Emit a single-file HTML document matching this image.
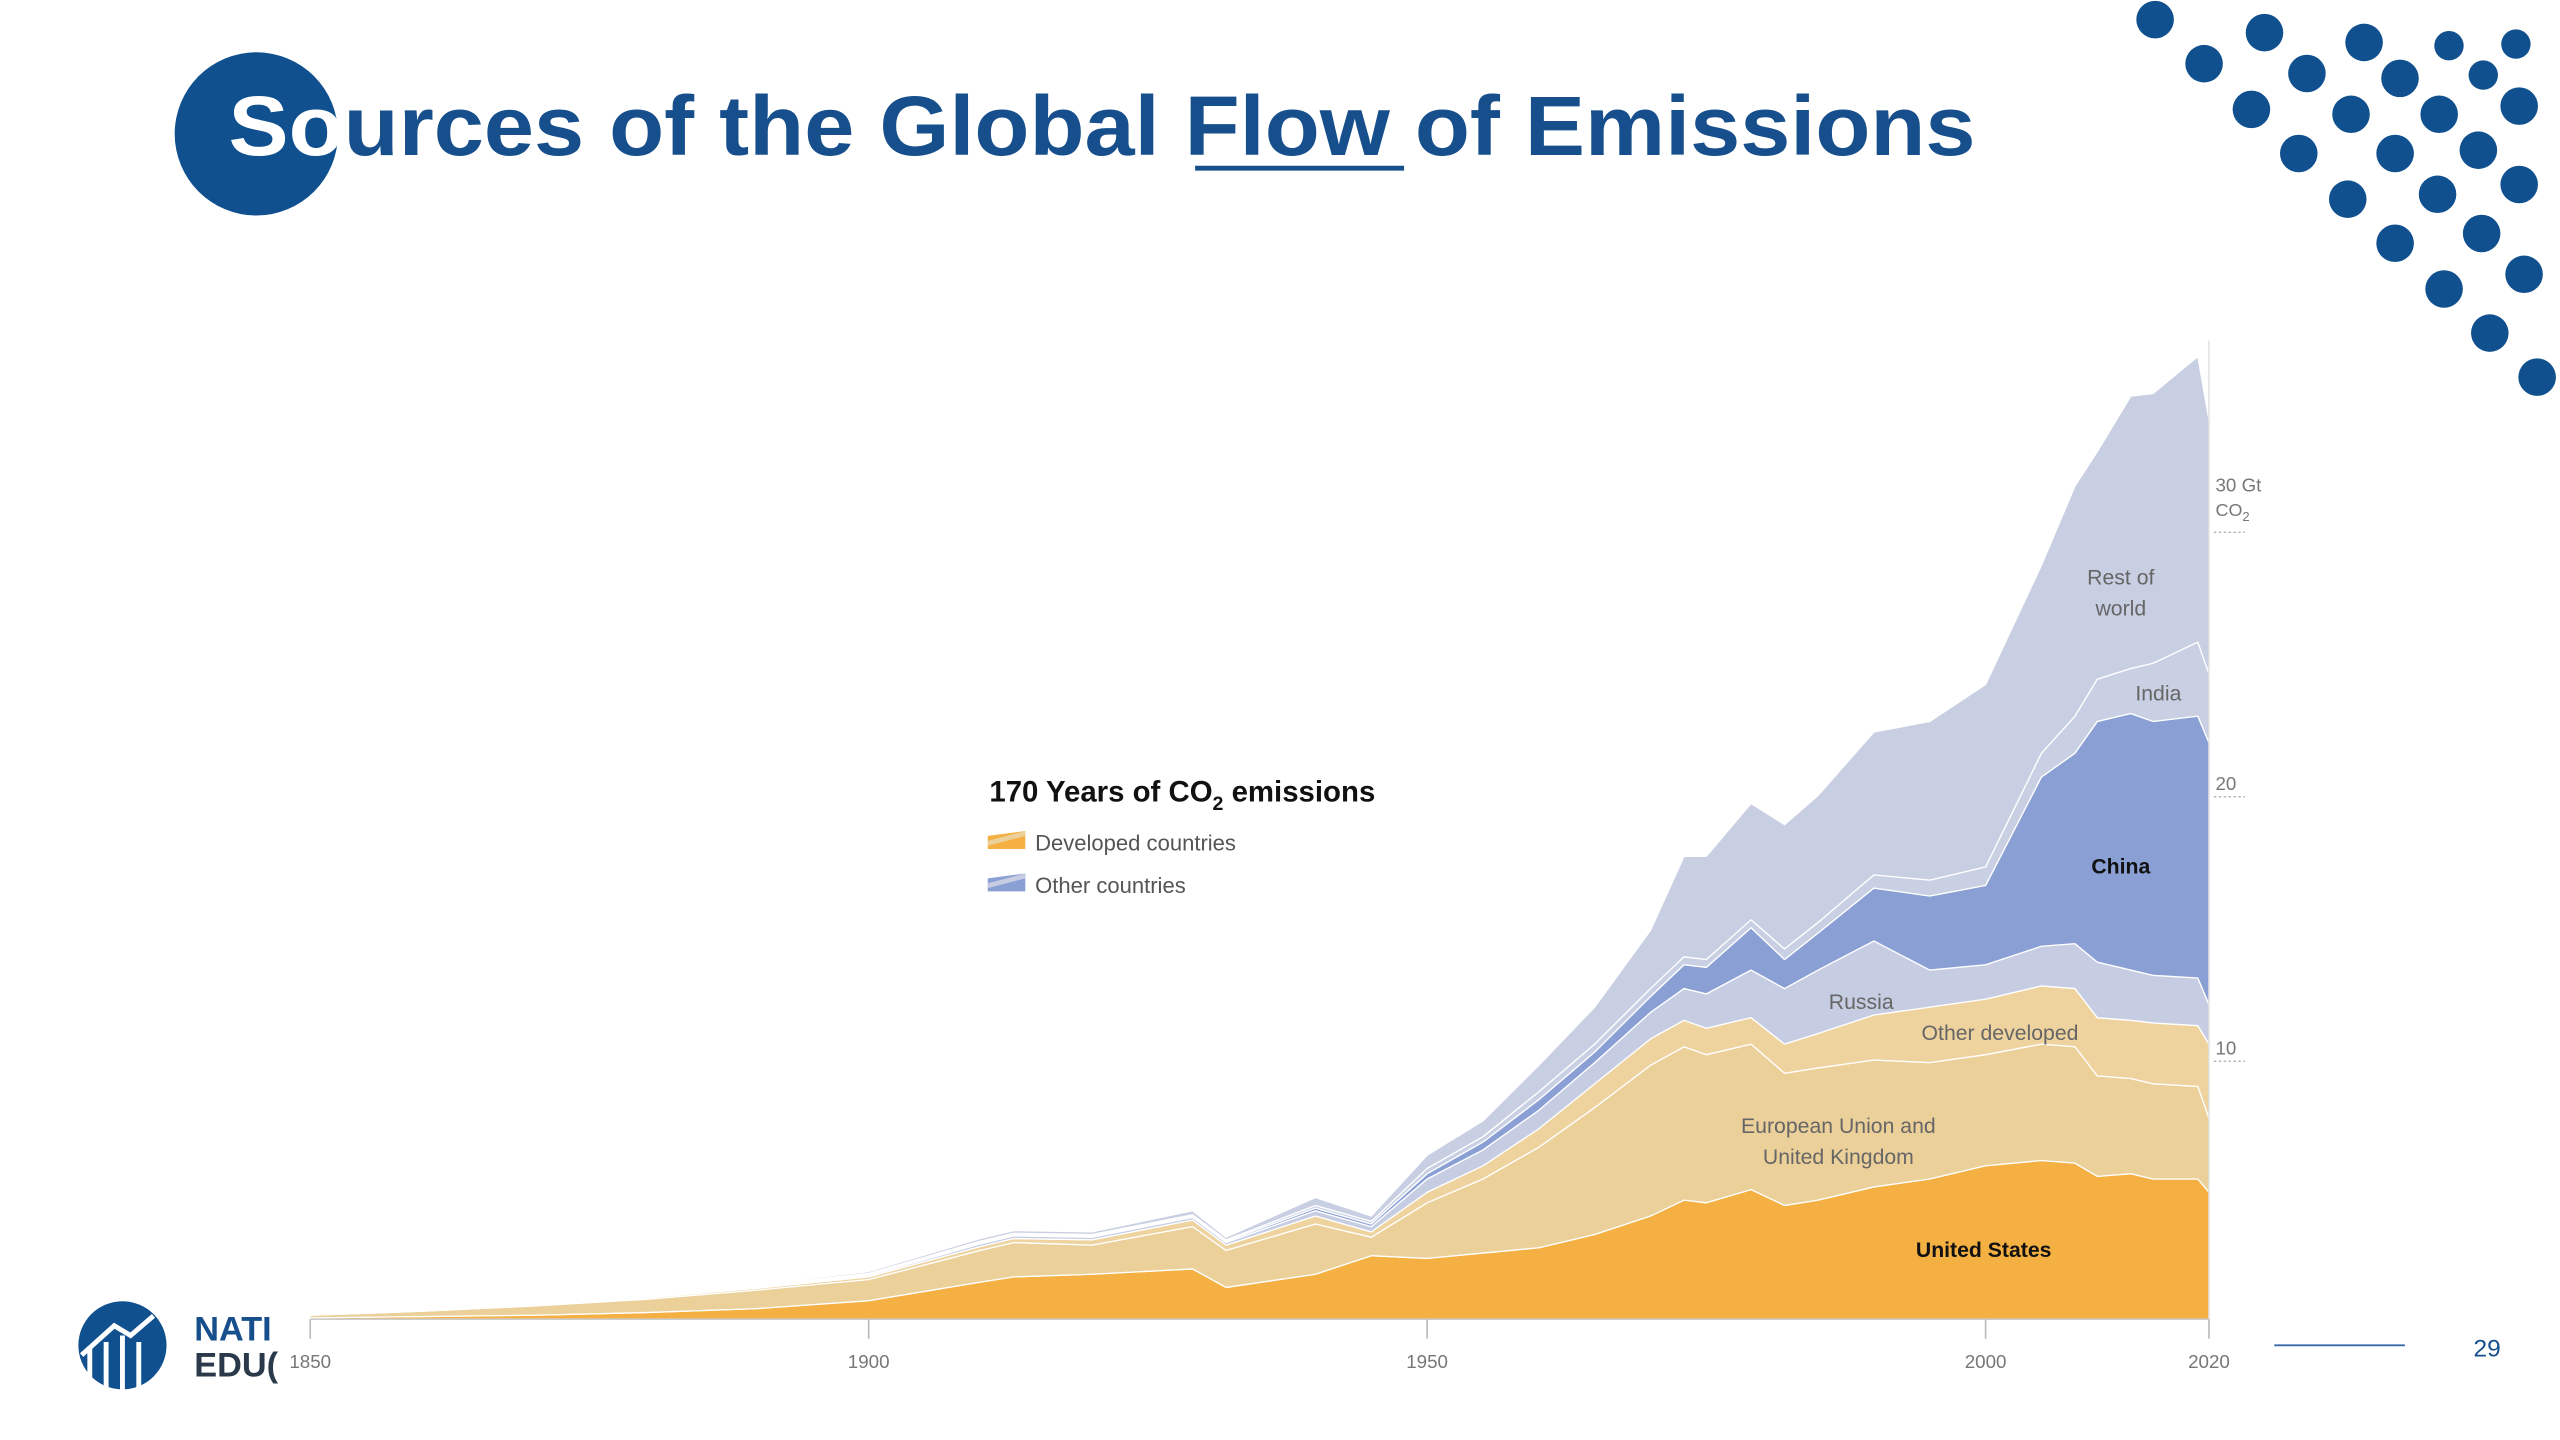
<!DOCTYPE html>
<html><head><meta charset="utf-8"><style>
html,body{margin:0;padding:0;background:#fff;}
svg{display:block;}
text{font-family:"Liberation Sans",sans-serif;}
</style></head><body>
<svg id="root" width="2560" height="1440" viewBox="0 0 1568 882" xmlns="http://www.w3.org/2000/svg">
  <g id="dots"></g>
  <circle cx="157" cy="82" r="50" fill="#10508f"/>
  <text x="140" y="95" font-size="52" font-weight="bold" fill="#174f8c" textLength="1070" lengthAdjust="spacingAndGlyphs"><tspan fill="#fff">So</tspan>urces of the Global Flow of Emissions</text>
  <line x1="732" y1="103" x2="860" y2="103" stroke="#174f8c" stroke-width="3"/>

  <g id="chart"></g>

  <g>
    <text x="606" y="491" font-size="18" font-weight="bold" fill="#111">170 Years of CO<tspan font-size="12" dy="5">2</tspan><tspan dy="-5"> emissions</tspan></text>
    <polygon points="605,520 628,520 628,509 605,512" fill="#f4b042"/>
    <polygon points="605,515 628,509 628,512 605,518" fill="#ecd09a"/>
    <text x="634" y="521" font-size="13.5" fill="#555">Developed countries</text>
    <polygon points="605,546 628,546 628,535 605,538" fill="#8a9fd4"/>
    <polygon points="605,541 628,535 628,538 605,544" fill="#c6cde3"/>
    <text x="634" y="547" font-size="13.5" fill="#555">Other countries</text>
  </g>

  <g>
    <circle cx="75" cy="824" r="27" fill="#10508f"/>
    <path d="M55 846 L55 826 M65 850 L65 822 M75 852 L75 818 M85 850 L85 822 M50 830 L70 812 L80 818 L94 806" stroke="#fff" stroke-width="3" fill="none"/>
    <text x="119" y="821" font-size="21" font-weight="bold" fill="#174f8c">NATI</text>
    <text x="119" y="843" font-size="21" font-weight="bold" fill="#2a3a4a">EDU(</text>
  </g>
  <line x1="1393" y1="824" x2="1473" y2="824" stroke="#3a6aa8" stroke-width="1.2"/>
  <text x="1515" y="831" font-size="15" fill="#174f8c">29</text>
</svg>
<script>
const years=[1850,1860,1870,1880,1890,1900,1910,1913,1920,1929,1932,1940,1945,1950,1955,1960,1965,1970,1973,1975,1979,1982,1985,1990,1995,2000,2005,2008,2010,2013,2015,2019,2020];
const usValues=[.05,.1,.15,.25,.4,.7,1.4,1.6,1.7,1.9,1.2,1.7,2.4,2.3,2.5,2.7,3.2,3.9,4.5,4.4,4.9,4.3,4.5,5.0,5.3,5.8,6.0,5.9,5.4,5.5,5.3,5.3,4.8];
const euValues=[.1,.2,.35,.5,.7,.8,1.2,1.3,1.1,1.6,1.4,1.9,.7,2.1,2.8,3.8,4.8,5.7,5.8,5.6,5.5,5.0,5.0,4.8,4.4,4.2,4.4,4.4,3.8,3.6,3.6,3.5,2.8];
const otherDevValues=[.01,.02,.03,.05,.07,.1,.15,.15,.2,.25,.2,.3,.2,.4,.5,.7,.9,1.0,1.0,1.0,1.0,1.1,1.3,1.7,2.1,2.1,2.2,2.2,2.2,2.2,2.3,2.3,2.8];
const russiaValues=[.01,.02,.03,.04,.05,.05,.1,.1,.1,.1,.1,.2,.2,.5,.6,.7,.8,1.0,1.2,1.3,1.8,2.1,2.4,2.8,1.4,1.3,1.5,1.7,2.1,1.9,1.8,1.8,1.5];
const chinaValues=[.01,.01,.02,.03,.03,.05,.05,.05,.05,.05,.05,.1,.1,.2,.3,.4,.4,.6,.9,1.0,1.6,1.1,1.4,2.0,2.8,3.0,6.4,7.2,9.1,9.7,9.6,9.9,9.9];
const indiaValues=[.01,.01,.02,.03,.03,.03,.05,.05,.05,.05,.05,.1,.1,.2,.2,.3,.3,.3,.3,.3,.3,.4,.4,.5,.6,.7,.9,1.4,1.6,1.7,2.2,2.8,2.6];
const restValues=[.01,.02,.02,.03,.04,.07,.1,.1,.1,.15,.1,.3,.2,.5,.6,1.0,1.4,2.2,3.8,3.9,4.4,4.7,4.8,5.4,6.0,6.9,7.1,8.7,8.6,10.3,10.2,10.8,9.6];
const seriesNames=["United States","European Union and United Kingdom","Other developed","Russia","China","India","Rest of world"];
const xTicks=[1850,1900,1950,2000,2020];
const yTicks=[10,20,30];

const NS="http://www.w3.org/2000/svg";
const chart=document.getElementById('chart');
const X0=190,X1=1353,Y0=808,PER=16.2;
function xs(y){return X0+(y-1850)/(2020-1850)*(X1-X0);}
function ys(v){return Y0-v*PER;}
function mk(tag,attrs,parent){const e=document.createElementNS(NS,tag);for(const k in attrs)e.setAttribute(k,attrs[k]);(parent||chart).appendChild(e);return e;}

const series=[usValues,euValues,otherDevValues,russiaValues,chinaValues,indiaValues,restValues];
const colors=["#f4b042","#ecd09a","#eed39f","#c6cde3","#8a9fd4","#c9d0e4","#c9cfe2"];
const slugs=["area-united-states","area-eu-uk","area-other-developed","area-russia","area-china","area-india","area-rest-of-world"];
let base=years.map(()=>0);
series.forEach((s,i)=>{
  const top=base.map((b,j)=>b+s[j]);
  let d="M"+years.map((y,j)=>xs(y).toFixed(2)+","+ys(top[j]).toFixed(2)).join(" L");
  for(let j=years.length-1;j>=0;j--) d+=" L"+xs(years[j]).toFixed(2)+","+ys(base[j]).toFixed(2);
  d+=" Z";
  const p=mk('path',{d:d,fill:colors[i],stroke:"#fff","stroke-width":0.8,"stroke-linejoin":"round"});
  
  
  base=top;
});

const ax=mk('line',{x1:X0,y1:Y0,x2:X1,y2:Y0,stroke:"#ccc","stroke-width":1});


xTicks.forEach(t=>{
  const l=mk('line',{x1:xs(t),y1:Y0,x2:xs(t),y2:Y0+12,stroke:"#bbb","stroke-width":1});
  
  
  const tx=mk('text',{x:xs(t),y:Y0+30,"font-size":11.5,fill:"#777","text-anchor":"middle","font-family":"Liberation Serif, serif"});
  tx.textContent=t;
  
  
});
const yl=mk('line',{x1:X1,y1:Y0,x2:X1,y2:ys(37),stroke:"#ddd","stroke-width":0.8});


yTicks.forEach(t=>{
  const l=mk('line',{x1:X1+3,y1:ys(t)+4,x2:X1+22,y2:ys(t)+4,stroke:"#aaa","stroke-width":0.8,"stroke-dasharray":"1.5,1.5"});
  
  
  const tx=mk('text',{x:X1+4,y:ys(t)+(t===30?-21:0),"font-size":11.5,fill:"#777","font-family":"Liberation Serif, serif"});
  tx.textContent=t===30?"30 Gt":t;
  
  
});
const co=mk('text',{x:X1+4,y:ys(30)-6,"font-size":11,fill:"#777","font-family":"Liberation Serif, serif"});
co.innerHTML='CO<tspan font-size="8" dy="3">2</tspan>';



const labels=[["United States",1215,770,true,"#111"],["European Union and",1126,694,false,"#666"],["United Kingdom",1126,713,false,"#666"],["Other developed",1225,637,false,"#666"],["Russia",1140,618,false,"#666"],["China",1299,535,true,"#111"],["India",1322,429,false,"#666"],["Rest of",1299,358,false,"#666"],["world",1299,377,false,"#666"]];
labels.forEach(l=>{
  const t=mk('text',{x:l[1],y:l[2],"font-size":13,fill:l[4],"text-anchor":"middle","font-weight":l[3]?"bold":"normal"});
  t.textContent=l[0];
  
  
});

const dots=[[1320,12],[1387,20],[1448,26],[1500,28],[1541,27],[1350,39],[1413,45],[1470,48],[1521,46],[1543,65],[1379,67],[1440,70],[1494,70],[1408,94],[1467,94],[1518,92],[1438,122],[1493,119],[1543,113],[1467,149],[1520,143],[1497,177],[1546,168],[1525,204],[1554,231]];
const dg=document.getElementById('dots');
dots.forEach(p=>{
  const c=document.createElementNS(NS,'circle');
  c.setAttribute('cx',p[0]);c.setAttribute('cy',p[1]);c.setAttribute('r',p[0]>1490&&p[1]<60?9:11.5);c.setAttribute('fill','#10508f');
  
  
  dg.appendChild(c);
});
</script>
</body></html>
